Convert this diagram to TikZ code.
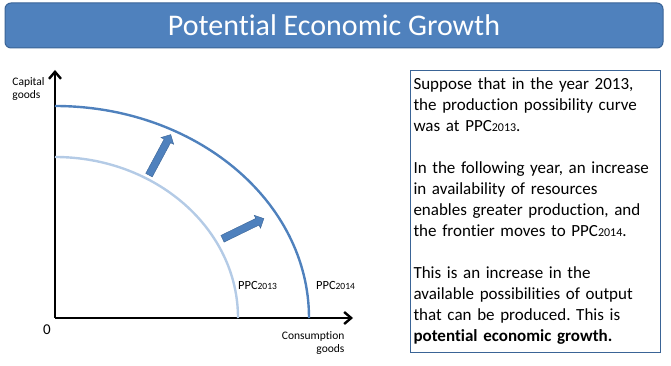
\documentclass[tikz,border=0pt]{standalone}
\usepackage{fontspec}
\setmainfont{Carlito}[Ligatures=NoCommon]
\usetikzlibrary{arrows.meta,shapes.arrows}
\definecolor{ppcblue}{HTML}{4F81BD}
\definecolor{ppcdark}{HTML}{3A6496}
\definecolor{ppclight}{HTML}{B4CBE6}
\frenchspacing
\begin{document}
\begin{tikzpicture}[x=1pt,y=1pt,>={Straight Barb[length=7pt,width=12pt]},
  axis/.style={line width=2.4pt,->},
  growarrow/.style={single arrow,draw=ppcdark,fill=ppcblue,
    single arrow head extend=3.5pt,inner xsep=0pt,inner ysep=3.5pt,minimum height=46pt},
  small/.style={font=\fontsize{11.5}{13}\selectfont}]
  \useasboundingbox (0,0) rectangle (671,366);
  \node[draw=ppcdark,fill=ppcblue,rounded corners=6pt,line width=1pt,
    minimum width=658pt,minimum height=45pt,text=white,
    font=\fontsize{30}{36}\selectfont] (title) at (334,340.5) {Potential Economic Growth};
  \coordinate (O) at (55,48);
  \coordinate (ytop) at (55,296);
  \coordinate (xend) at (353,48);
  \draw[axis] (O) -- (ytop);
  \draw[axis] (O) -- (xend);
  \draw[ppclight,line width=2.4pt] (55,209) arc[start angle=90,end angle=0,x radius=183,y radius=161];
  \draw[ppcblue,line width=2.4pt] (55,260) arc[start angle=90,end angle=0,x radius=254,y radius=212];
  \node[growarrow,rotate=61.8] (grow1) at (159,209.5) {};
  \node[growarrow,rotate=26] (grow2) at (241.5,136.5) {};
  \node[small,align=left] (capital) at (28.5,277) {Capital\\goods};
  \node[font=\fontsize{15}{18}\selectfont] (zero) at (47,36) {0};
  \node[small,align=right,anchor=east] (consumption) at (348,22.5) {Consumption\\goods};
  \node[font=\fontsize{12.5}{14}\selectfont] (ppc13) at (257.5,81) {PPC{\fontsize{9.5}{10}\selectfont2013}};
  \node[font=\fontsize{12.5}{14}\selectfont] (ppc14) at (335.5,81) {PPC{\fontsize{9.5}{10}\selectfont2014}};
  \node[draw=ppcdark,line width=1pt,anchor=north west,minimum width=250pt,minimum height=282pt,
    inner sep=3pt,text width=244pt,align=left,
    font=\fontsize{17}{21}\selectfont] (explain) at (410,296)
    {Suppose that in the year 2013,\\the production possibility curve\\was at PPC{\fontsize{12}{14}\selectfont2013}.\\[21pt]
     In the following year, an increase\\in availability of resources\\enables greater production, and\\the frontier moves to PPC{\fontsize{12}{14}\selectfont2014}.\\[21pt]
     This is an increase in the\\available possibilities of output\\that can be produced. This is\\\textbf{potential economic growth.}};
\end{tikzpicture}
\end{document}
